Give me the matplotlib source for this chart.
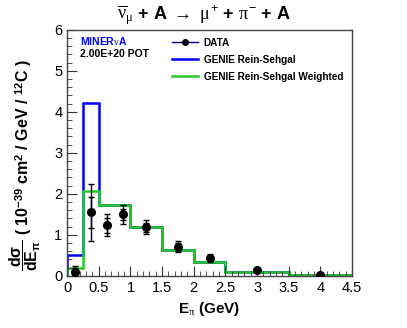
import numpy as np
import matplotlib.pyplot as plt
from matplotlib.lines import Line2D
from matplotlib.ticker import MultipleLocator

plt.rcParams['font.family'] = ['Liberation Sans', 'DejaVu Sans']
plt.rcParams['mathtext.fontset'] = 'custom'
plt.rcParams['mathtext.rm'] = 'Liberation Sans'
plt.rcParams['mathtext.bf'] = 'Liberation Sans:bold'
plt.rcParams['mathtext.it'] = 'Liberation Serif'

# histogram bin edges (GeV)
edges = [0, 0.25, 0.5, 0.75, 1.0, 1.5, 2.0, 2.5, 3.5, 4.5]
genie = [0.50, 4.22, 1.72, 1.72, 1.19, 0.62, 0.33, 0.10, 0.03]
genie_w = [0.19, 2.08, 1.72, 1.72, 1.19, 0.62, 0.33, 0.10, 0.03]

# data points
data_x = [0.125, 0.375, 0.625, 0.875, 1.25, 1.75, 2.25, 3.0, 4.0]
data_y = [0.10, 1.55, 1.23, 1.50, 1.19, 0.71, 0.43, 0.15, 0.03]
err_tot = [0.15, 0.70, 0.27, 0.23, 0.17, 0.13, 0.10, 0.03, 0.02]
err_stat = [0.08, 0.38, 0.18, 0.14, 0.11, 0.08, 0.06, 0.02, 0.01]

fig = plt.figure(figsize=(4.07, 3.28), dpi=100)
ax = fig.add_axes([0.165, 0.159, 0.700, 0.750])

ax.stairs(genie, edges, baseline=0, color='#0000ff', lw=1.8)
ax.stairs(genie_w, edges, baseline=0, color='#22cc22', lw=1.8)

ax.errorbar(data_x, data_y, yerr=err_tot, fmt='none', ecolor='black',
            elinewidth=1, capsize=2.5, capthick=1)
ax.errorbar(data_x, data_y, yerr=err_stat, fmt='o', color='black', ms=5.5,
            ecolor='black', elinewidth=1, capsize=2.5, capthick=1, zorder=5)

ax.set_xlim(0, 4.5)
ax.set_ylim(0, 6)
ax.xaxis.set_major_locator(MultipleLocator(0.5))
ax.xaxis.set_minor_locator(MultipleLocator(0.1))
ax.yaxis.set_major_locator(MultipleLocator(1))
ax.yaxis.set_minor_locator(MultipleLocator(0.2))
ax.xaxis.set_major_formatter(plt.FuncFormatter(lambda v, p: f'{v:g}'))
ax.tick_params(which='both', direction='in', top=False, right=False,
               labelsize=10.5, color='#333333')
ax.tick_params(which='major', length=7)
ax.tick_params(which='minor', length=3.5)
for s in ax.spines.values():
    s.set_color('#444444')
    s.set_linewidth(1)

ax.text(0.045, 0.955, r'MINER$\nu$A', transform=ax.transAxes, color='#0000ff',
        fontsize=7.5, fontweight='bold', va='center')
ax.text(0.045, 0.900, '2.00E+20 POT', transform=ax.transAxes, color='black',
        fontsize=7.5, fontweight='bold', va='center')

handles = [
    Line2D([], [], color='#000080', lw=1, marker='o', ms=4, mfc='black', mec='black'),
    Line2D([], [], color='#0000ff', lw=1.8),
    Line2D([], [], color='#22cc22', lw=1.8),
]
labels = ['DATA', 'GENIE Rein-Sehgal', 'GENIE Rein-Sehgal Weighted']
leg = ax.legend(handles, labels, loc='upper left', bbox_to_anchor=(0.335, 1.005),
                frameon=False, handlelength=2.6, prop={'weight': 'bold', 'size': 7.2},
                labelspacing=0.7, handletextpad=0.6)

fig.text(0.5, 0.955, r'$\overline{\nu}_{\mu}$ + A $\rightarrow$ $\mu^{+}$ + $\pi^{-}$ + A',
         ha='center', va='center', fontsize=13, fontweight='bold')
ax.set_xlabel(r'$\mathbf{E}_{\pi}$ (GeV)', fontsize=11, fontweight='bold', labelpad=4)
fig.text(0.062, 0.495,
         r'$\mathbf{\dfrac{d\sigma}{dE_{\pi}}}$ ( 10$^{\mathbf{-39}}$ cm$^{\mathbf{2}}$ / GeV / $^{\mathbf{12}}$C )',
         rotation=90, ha='center', va='center', fontsize=11.5, fontweight='bold')

fig.savefig('out.png', dpi=100)
